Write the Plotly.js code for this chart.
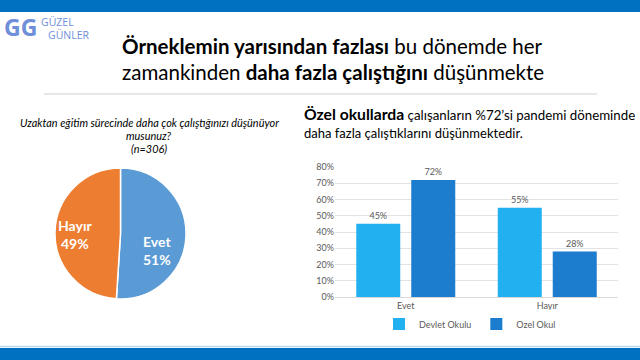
<!DOCTYPE html>
<html>
<head>
<meta charset="utf-8">
<script src="https://cdn.plot.ly/plotly-3.0.1.min.js"></script>
<style>
html,body{margin:0;padding:0;background:#fff;}
#chart{width:640px;height:360px;}
</style>
</head>
<body>
<div id="chart"></div>
<script>
// Pie data
const pieLabels = ["Evet", "Hayır"];
const pieValues = [51, 49];
const pieColors = ["#5B9BD5", "#ED7D31"];

// Bar data
const barCategories = ["Evet", "Hayır"];
const devletValues = [45, 55];
const ozelValues = [72, 28];
const seriesNames = ["Devlet Okulu", "Ozel Okul"];
const yTicks = [0, 10, 20, 30, 40, 50, 60, 70, 80];

const W = 640, H = 360;
const px = x => x / W;
const py = y => 1 - y / H;

const font = "Lato, 'Open Sans', sans-serif";

const traces = [
  {
    type: "pie",
    labels: pieLabels,
    values: pieValues,
    sort: false,
    direction: "clockwise",
    rotation: 0,
    marker: {colors: pieColors, line: {color: "#ffffff", width: 1.5}},
    textinfo: "none",
    hoverinfo: "none",
    showlegend: false,
    domain: {x: [px(55), px(186)], y: [py(299), py(168)]}
  },
  {
    type: "bar",
    name: seriesNames[0],
    x: barCategories,
    y: devletValues,
    marker: {color: "#21B1F1"},
    text: devletValues.map(v => v + "%"),
    textposition: "outside",
    textfont: {family: font, size: 9, color: "#595959"},
    cliponaxis: false,
    xaxis: "x", yaxis: "y"
  },
  {
    type: "bar",
    name: seriesNames[1],
    x: barCategories,
    y: ozelValues,
    marker: {color: "#1C7DCE"},
    text: ozelValues.map(v => v + "%"),
    textposition: "outside",
    textfont: {family: font, size: 9, color: "#595959"},
    cliponaxis: false,
    xaxis: "x", yaxis: "y"
  }
];

// pie label positions (text content from the data arrays)
const pieLabelPos = [[157, 250.5], [75, 234.5]];
const pieAnnotations = pieLabels.map((lab, i) => ({
  xref: "paper", yref: "paper",
  x: px(pieLabelPos[i][0]), y: py(pieLabelPos[i][1]),
  xanchor: "center", yanchor: "middle", showarrow: false,
  text: "<b>" + lab + "<br>" + pieValues[i] + "%</b>",
  font: {family: font, size: 14, color: "#ffffff"}
}));

const layout = {
  width: W, height: H,
  margin: {l: 0, r: 0, t: 0, b: 0},
  paper_bgcolor: "#ffffff",
  plot_bgcolor: "#ffffff",
  font: {family: font, color: "#595959"},
  barmode: "group",
  bargap: 0.2226,
  bargroupgap: 0.2,
  xaxis: {
    domain: [px(335), px(618)],
    anchor: "y",
    showgrid: false,
    showline: true,
    linecolor: "#d9d9d9",
    linewidth: 1,
    ticks: "",
    tickfont: {family: font, size: 9, color: "#595959"},
    fixedrange: true
  },
  yaxis: {
    domain: [py(297), py(167)],
    anchor: "x",
    range: [0, 80],
    tickvals: yTicks,
    ticktext: yTicks.map(v => v + "%"),
    showgrid: true,
    gridcolor: "#e3e3e3",
    zeroline: false,
    showline: false,
    ticks: "",
    tickfont: {family: font, size: 9, color: "#595959"},
    fixedrange: true
  },
  showlegend: true,
  legend: {
    orientation: "h",
    x: px(470), y: py(324),
    xanchor: "center", yanchor: "middle",
    font: {family: font, size: 9, color: "#595959"},
    itemwidth: 30,
    traceorder: "normal"
  },
  shapes: [
    {type: "rect", xref: "paper", yref: "paper", x0: 0, x1: 1, y0: py(12), y1: 1, fillcolor: "#0070C0", line: {width: 0}, layer: "below"},
    {type: "rect", xref: "paper", yref: "paper", x0: 0, x1: 1, y0: 0, y1: py(348), fillcolor: "#0070C0", line: {width: 0}, layer: "below"},
    {type: "line", xref: "paper", yref: "paper", x0: 0, x1: 1, y0: py(346.5), y1: py(346.5), line: {color: "#BDD7EE", width: 1.5}},
    {type: "line", xref: "paper", yref: "paper", x0: px(44), x1: px(597), y0: py(94), y1: py(94), line: {color: "#d0d0d0", width: 1}}
  ],
  annotations: [
    // logo
    {xref: "paper", yref: "paper", x: px(2), y: py(27), xanchor: "left", yanchor: "middle", showarrow: false,
     text: "<b>GG</b>", font: {family: "'Open Sans', sans-serif", size: 23, color: "#6F8FDA"}},
    {xref: "paper", yref: "paper", x: px(39), y: py(21.5), xanchor: "left", yanchor: "middle", showarrow: false,
     text: "GÜZEL", font: {family: "'Open Sans', sans-serif", size: 10.5, color: "#6F8FDA"}},
    {xref: "paper", yref: "paper", x: px(46), y: py(35.5), xanchor: "left", yanchor: "middle", showarrow: false,
     text: "GÜNLER", font: {family: "'Open Sans', sans-serif", size: 10.5, color: "#6F8FDA"}},
    // main title
    {xref: "paper", yref: "paper", x: px(120), y: py(46), xanchor: "left", yanchor: "middle", showarrow: false, align: "left",
     text: "<b>Örneklemin yarısından fazlası</b> bu dönemde her", font: {family: font, size: 20.5, color: "#000000"}},
    {xref: "paper", yref: "paper", x: px(120), y: py(72), xanchor: "left", yanchor: "middle", showarrow: false, align: "left",
     text: "zamankinden <b>daha fazla çalıştığını</b> düşünmekte", font: {family: font, size: 20.5, color: "#000000"}},
    // pie question
    {xref: "paper", yref: "paper", x: px(149), y: py(122), xanchor: "center", yanchor: "middle", showarrow: false,
     text: "<i>Uzaktan eğitim sürecinde daha çok çalıştığınızı düşünüyor</i>", font: {family: font, size: 10.9, color: "#000000"}},
    {xref: "paper", yref: "paper", x: px(149), y: py(135), xanchor: "center", yanchor: "middle", showarrow: false,
     text: "<i>musunuz?</i>", font: {family: font, size: 10.9, color: "#000000"}},
    {xref: "paper", yref: "paper", x: px(149), y: py(148), xanchor: "center", yanchor: "middle", showarrow: false,
     text: "<i>(n=306)</i>", font: {family: font, size: 10.9, color: "#000000"}},
    // bar heading
    {xref: "paper", yref: "paper", x: px(302), y: py(114), xanchor: "left", yanchor: "middle", showarrow: false, align: "left",
     text: "<b><span style='font-size:15.7px'>Özel okullarda</span></b> çalışanların %72’si pandemi döneminde", font: {family: font, size: 13.3, color: "#000000"}},
    {xref: "paper", yref: "paper", x: px(302), y: py(133), xanchor: "left", yanchor: "middle", showarrow: false, align: "left",
     text: "daha fazla çalıştıklarını düşünmektedir.", font: {family: font, size: 13, color: "#000000"}}
  ].concat(pieAnnotations)
};

Plotly.newPlot("chart", traces, layout, {displayModeBar: false, staticPlot: true});
</script>
</body>
</html>
